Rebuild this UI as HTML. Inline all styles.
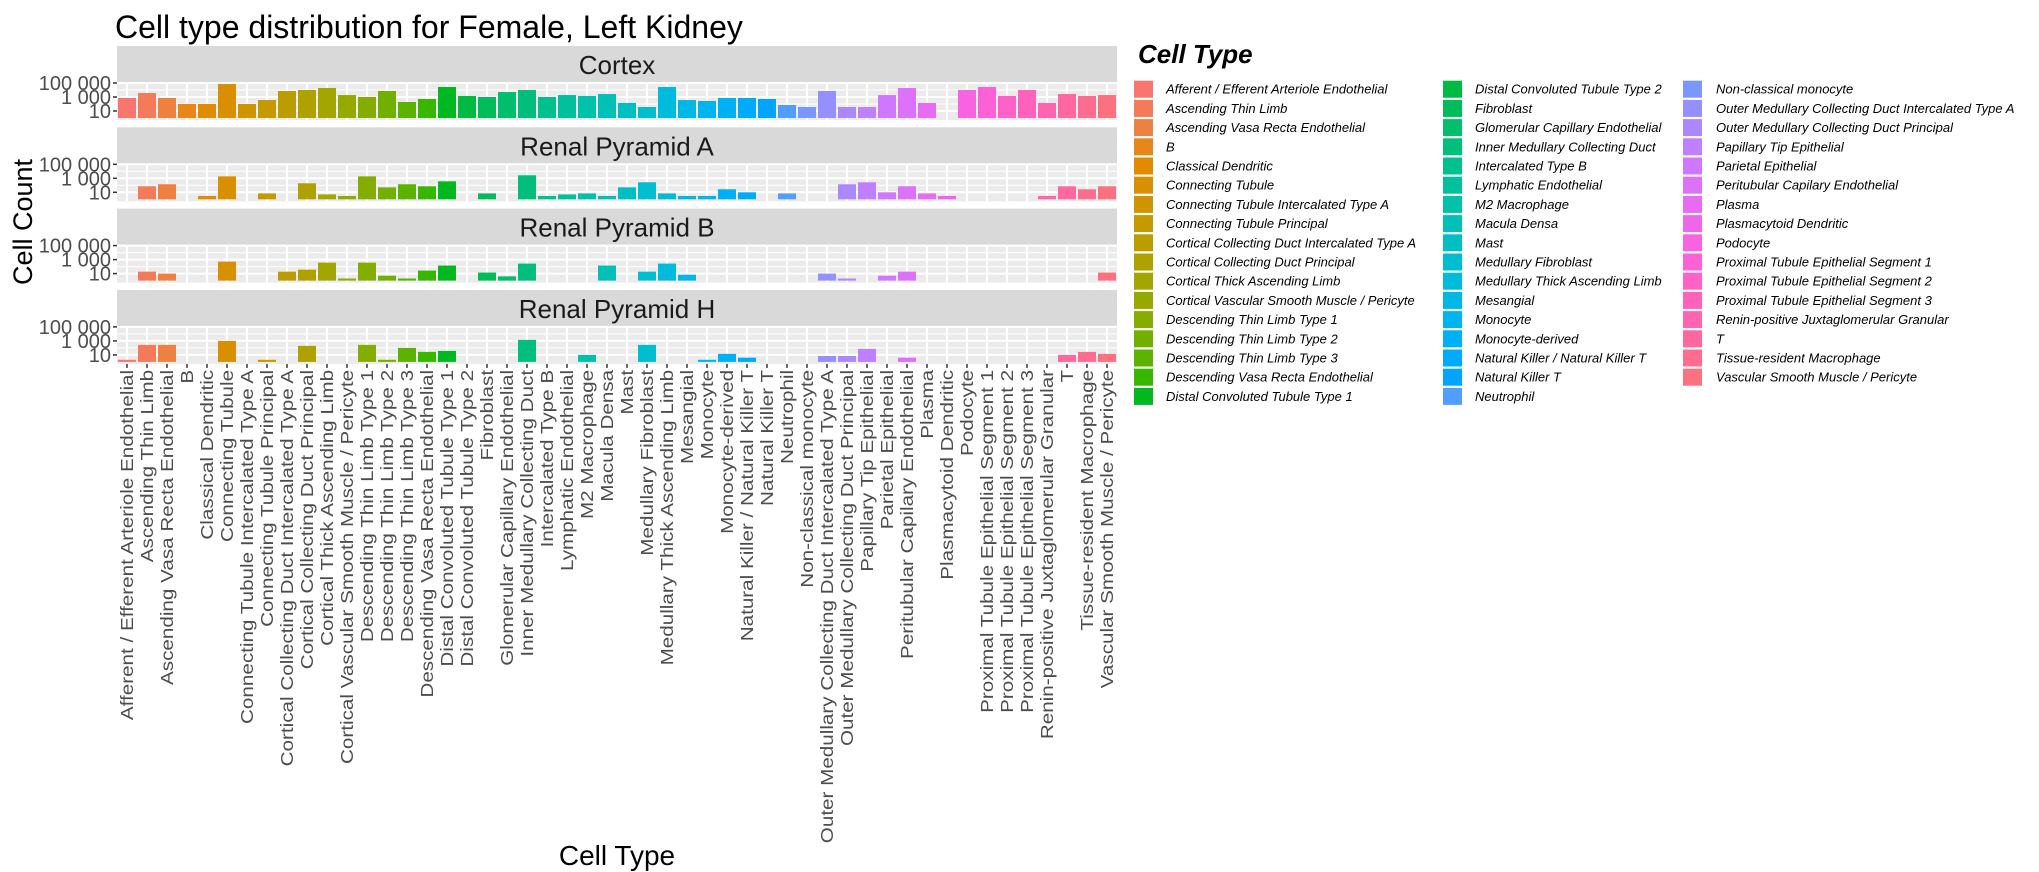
<!DOCTYPE html>
<html><head><meta charset="utf-8"><style>
html,body{margin:0;padding:0;background:#fff;}
svg{display:block;font-family:"Liberation Sans",sans-serif;}
</style></head><body>
<svg id="chart" width="2039" height="872" viewBox="0 0 2039 872">
<text x="115" y="38" font-size="32" fill="#000">Cell type distribution for Female, Left Kidney</text>
<text transform="translate(32,222) rotate(-90)" text-anchor="middle" font-size="27" fill="#000">Cell Count</text>
<text x="617" y="865" text-anchor="middle" font-size="28" fill="#000">Cell Type</text>
<text x="1138" y="63" font-size="26" font-weight="bold" font-style="italic" fill="#000">Cell Type</text>
<g id="plots"></g>
<g id="legend"></g>
</svg>
<script>
const categories = ["Afferent / Efferent Arteriole Endothelial","Ascending Thin Limb","Ascending Vasa Recta Endothelial","B","Classical Dendritic","Connecting Tubule","Connecting Tubule Intercalated Type A","Connecting Tubule Principal","Cortical Collecting Duct Intercalated Type A","Cortical Collecting Duct Principal","Cortical Thick Ascending Limb","Cortical Vascular Smooth Muscle / Pericyte","Descending Thin Limb Type 1","Descending Thin Limb Type 2","Descending Thin Limb Type 3","Descending Vasa Recta Endothelial","Distal Convoluted Tubule Type 1","Distal Convoluted Tubule Type 2","Fibroblast","Glomerular Capillary Endothelial","Inner Medullary Collecting Duct","Intercalated Type B","Lymphatic Endothelial","M2 Macrophage","Macula Densa","Mast","Medullary Fibroblast","Medullary Thick Ascending Limb","Mesangial","Monocyte","Monocyte-derived","Natural Killer / Natural Killer T","Natural Killer T","Neutrophil","Non-classical monocyte","Outer Medullary Collecting Duct Intercalated Type A","Outer Medullary Collecting Duct Principal","Papillary Tip Epithelial","Parietal Epithelial","Peritubular Capilary Endothelial","Plasma","Plasmacytoid Dendritic","Podocyte","Proximal Tubule Epithelial Segment 1","Proximal Tubule Epithelial Segment 2","Proximal Tubule Epithelial Segment 3","Renin-positive Juxtaglomerular Granular","T","Tissue-resident Macrophage","Vascular Smooth Muscle / Pericyte"];
const facets = ["Cortex","Renal Pyramid A","Renal Pyramid B","Renal Pyramid H"];
const cortexCounts = [720,3700,720,100,100,71000,100,370,7200,10000,19500,1900,1000,7200,195,520,27000,1400,1000,5100,10000,1000,1900,1400,2700,140,37,27000,370,270,720,720,520,72,37,7200,37,37,1900,19500,140,0,10000,27000,1400,10000,140,2700,1400,1900];
const pyramidACounts = [0,72,140,0,3,1900,0,7,0,195,5,3,1900,51,140,72,370,0,7,0,2700,3,5,7,3,51,270,7,3,3,27,10,0,7,0,0,140,270,10,72,7,3,0,0,0,0,3,72,27,72];
const pyramidBCounts = [0,19,10,0,0,510,0,0,19,37,370,2,370,5,2,27,140,0,14,4,270,0,0,0,140,0,19,270,7,0,0,0,0,0,0,10,2,0,5,19,0,0,0,0,0,0,0,0,0,14];
const pyramidHCounts = [2,270,270,0,0,1000,0,2,0,195,0,0,270,2,100,27,37,0,0,0,1400,0,0,10,0,0,270,0,0,2,14,4,0,0,0,7,7,72,0,4,0,0,0,0,0,0,0,10,27,14];
const seriesList = [cortexCounts, pyramidACounts, pyramidBCounts, pyramidHCounts];
const yTickValues = [10,1000,100000];
const yTickLabels = ["10","1 000","100 000"];
const yMinorValues = [100,10000];

const NS="http://www.w3.org/2000/svg";
function mk(tag, attrs, parent){const e=document.createElementNS(NS,tag);for(const k in attrs)e.setAttribute(k,attrs[k]);parent.appendChild(e);return e;}
function hcl(h,c,l){
  const Xn=95.047,Yn=100,Zn=108.883;
  const hr=h*Math.PI/180,U=c*Math.cos(hr),V=c*Math.sin(hr);
  const Y=l>8?Yn*Math.pow((l+16)/116,3):Yn*l/903.3;
  const t=Xn+Yn+Zn,x=Xn/t,y=Yn/t;const uN=2*x/(6*y-x+1.5),vN=4.5*y/(6*y-x+1.5);
  const u=U/(13*l)+uN,v=V/(13*l)+vN;
  const X=9*Y*u/(4*v),Z=-X/3-5*Y+3*Y/v;
  const lin=[(3.240479*X-1.53715*Y-0.498535*Z)/100,(-0.969256*X+1.875992*Y+0.041556*Z)/100,(0.055648*X-0.204043*Y+1.057311*Z)/100];
  return "rgb("+lin.map(q=>{let g=q>0.00304?1.055*Math.pow(q,1/2.4)-0.055:12.92*q;return Math.round(255*Math.max(0,Math.min(1,g)));}).join(",")+")";
}
const n=categories.length;
const colors=categories.map((c,i)=>hcl(15+360*i/n,100,65));
const X0=117,X1=1117,step=(X1-X0)/n;
function xPos(i){return X0+step*i;}
const PER_DEC=7;
const plots=document.getElementById('plots');
facets.forEach((f,fi)=>{
  const top=46+81.3*fi, pTop=top+37, pBot=pTop+37, base=pBot-2;
  const yS=v=>base-PER_DEC*Math.log10(v);
  const g=mk('g',{},plots);
  
  
  const strip=mk('rect',{x:X0,y:top,width:X1-X0,height:37,fill:'#D9D9D9'},g);
  
  
  const st=mk('text',{x:(X0+X1)/2,y:top+28,'text-anchor':'middle','font-size':26,fill:'#1A1A1A'},g);st.textContent=f;
  
  
  const bg=mk('rect',{x:X0,y:pTop,width:X1-X0,height:37,fill:'#EBEBEB'},g);
  
  
  yMinorValues.forEach(v=>{mk('line',{x1:X0,x2:X1,y1:yS(v),y2:yS(v),stroke:'#fff','stroke-width':1},g);});
  yTickValues.forEach((v,k)=>{
    mk('line',{x1:X0,x2:X1,y1:yS(v),y2:yS(v),stroke:'#fff','stroke-width':2},g);
    mk('line',{x1:X0-4,x2:X0,y1:yS(v),y2:yS(v),stroke:'#333','stroke-width':1.5},g);
    const t=mk('text',{x:X0-6,y:yS(v)+7,'text-anchor':'end','font-size':20,fill:'#4D4D4D'},g);t.textContent=yTickLabels[k];
    
    
  });
  for(let i=0;i<n;i++){mk('line',{x1:xPos(i)+step/2,x2:xPos(i)+step/2,y1:pTop,y2:pBot,stroke:'#fff','stroke-width':2},g);}
  seriesList[fi].forEach((v,i)=>{
    if(!(v>=1))return;
    const y=yS(v);
    const r=mk('rect',{x:xPos(i)+step*0.05,y:y,width:step*0.9,height:Math.max(0,base-y),fill:colors[i]},g);
    
    
  });
});
const hBot=46+81.3*3+74;
categories.forEach((c,i)=>{
  const cx=xPos(i)+step/2;
  mk('line',{x1:cx,x2:cx,y1:hBot,y2:hBot+4,stroke:'#333','stroke-width':1.5},plots);
  const t=mk('text',{transform:'translate('+(cx+6)+','+(hBot+6)+') rotate(-90) scale(1.18,1)','text-anchor':'end','font-size':17.5,fill:'#4D4D4D'},plots);
  t.textContent=c;
  
  
});
const legend=document.getElementById('legend');
const colX=[1134,1443,1683],txX=[1166,1475,1716],perCol=[17,17,16];
let idx=0;
perCol.forEach((cnt,ci)=>{
  for(let r=0;r<cnt;r++,idx++){
    const y=80.7+19.2*r;
    const g=mk('g',{},legend);
    
    
    mk('rect',{x:colX[ci],y:y,width:19,height:17,fill:colors[idx]},g);
    const t=mk('text',{x:txX[ci],y:y+13,'font-size':13,'font-style':'italic',fill:'#000'},g);t.textContent=categories[idx];
  }
});
</script>
</body></html>
